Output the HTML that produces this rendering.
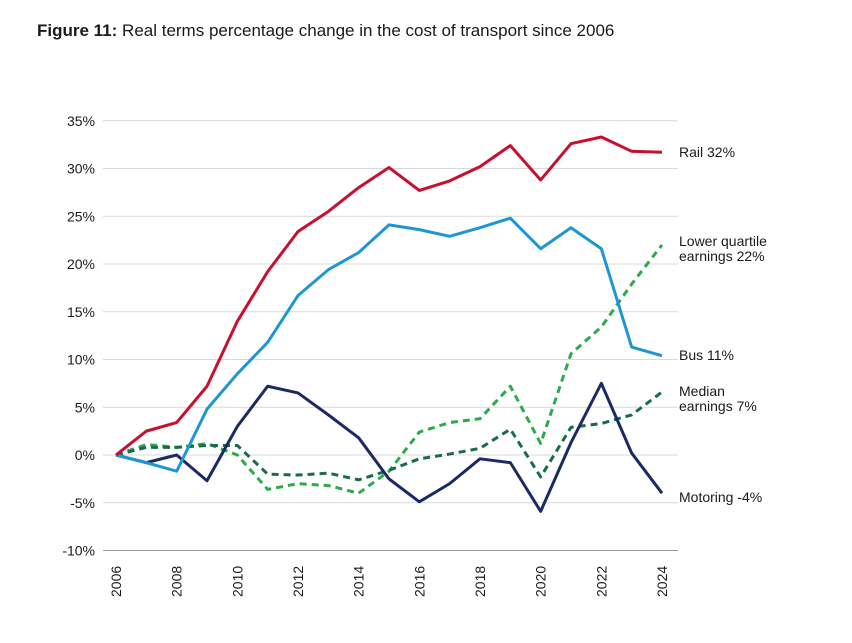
<!DOCTYPE html>
<html><head><meta charset="utf-8">
<style>
body{margin:0;background:#fff;width:852px;height:638px;overflow:hidden;font-family:"Liberation Sans",Arial,sans-serif;}
svg text{font-family:"Liberation Sans",Arial,sans-serif;fill:#1a1a1a;}
</style></head>
<body>
<svg width="852" height="638">
<text x="37" y="36" font-size="17"><tspan font-weight="bold">Figure 11:</tspan> Real terms percentage change in the cost of transport since 2006</text>
<g id="grid"></g><g id="yt"></g><g id="xt"></g><g id="series"></g><g id="labels"></g>
</svg>
<script>
const years=[2006,2007,2008,2009,2010,2011,2012,2013,2014,2015,2016,2017,2018,2019,2020,2021,2022,2023,2024];
const yTicks=[35,30,25,20,15,10,5,0,-5,-10];
const xTickYears=[2006,2008,2010,2012,2014,2016,2018,2020,2022,2024];
const rail=[0,2.5,3.4,7.2,14,19.2,23.4,25.5,28,30.1,27.7,28.7,30.2,32.4,28.8,32.6,33.3,31.8,31.7];
const bus=[0,-0.8,-1.7,4.8,8.5,11.8,16.7,19.4,21.2,24.1,23.6,22.9,23.8,24.8,21.6,23.8,21.6,11.3,10.4];
const motoring=[0,-0.8,0,-2.7,3,7.2,6.5,4.2,1.8,-2.5,-4.9,-3,-0.4,-0.8,-5.9,1.3,7.5,0.2,-4];
const lowerQuartile=[0,1.1,0.8,1.2,0,-3.6,-3,-3.2,-4,-1.7,2.4,3.4,3.8,7.2,1.2,10.6,13.4,17.9,22];
const median=[0,0.8,0.8,1,1,-2,-2.1,-1.9,-2.6,-1.6,-0.4,0.1,0.7,2.7,-2.3,2.9,3.3,4.2,6.6];
const NS="http://www.w3.org/2000/svg";
const xs=y=>116+(y-2006)*(662-116)/18;
const ys=v=>455-v*9.55;
function mk(t,a,p){const e=document.createElementNS(NS,t);for(const k in a)e.setAttribute(k,a[k]);p.appendChild(e);return e;}
const grid=document.getElementById('grid'),yt=document.getElementById('yt'),xt=document.getElementById('xt');
yTicks.forEach(v=>{
 const l=mk('line',{x1:103,x2:678,y1:ys(v),y2:ys(v),stroke:v==-10?'#999':'#d9d9d9','stroke-width':1},grid);
 
 
 const t=mk('text',{x:95,y:ys(v)+5,'text-anchor':'end','font-size':14},yt);
 t.textContent=v+'%';
 
 
});
xTickYears.forEach(y=>{
 const t=mk('text',{transform:`translate(${xs(y)+5},597) rotate(-90)`,'font-size':14},xt);
 t.textContent=y;
 
 
});
const defs=[
 [lowerQuartile,'#2eaa4a','7 5','lower-quartile-line',['Lower quartile','earnings 22%']],
 [median,'#1a6b4e','7 5','median-line',['Median','earnings 7%']],
 [motoring,'#1b2a63',null,'motoring-line',['Motoring -4%']],
 [bus,'#1f96d3',null,'bus-line',['Bus 11%']],
 [rail,'#c8102e',null,'rail-line',['Rail 32%']]];
const sg=document.getElementById('series'),lg=document.getElementById('labels');
const labelY={'lower-quartile-line':246,'median-line':396,'motoring-line':502,'bus-line':360,'rail-line':157};
defs.forEach(([d,c,dash,name,lab])=>{
 const p=mk('polyline',{points:d.map((v,i)=>xs(years[i])+','+ys(v)).join(' '),fill:'none',stroke:c,'stroke-width':3,'stroke-linejoin':'round'},sg);
 if(dash)p.setAttribute('stroke-dasharray',dash);
 
 
 lab.forEach((s,i)=>{
  const t=mk('text',{x:679,y:labelY[name]+i*15,'font-size':14},lg);
  t.textContent=s;
  
  
 });
});
</script>
</body></html>
